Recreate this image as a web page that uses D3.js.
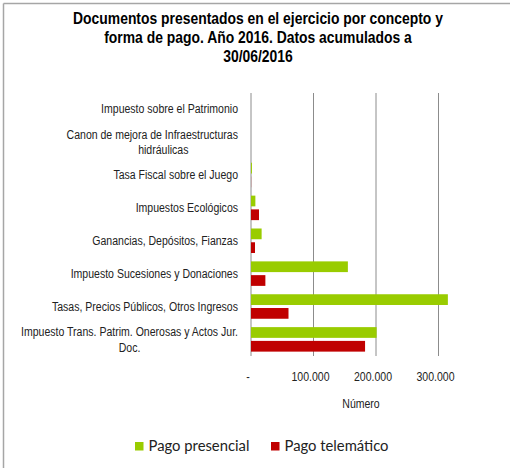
<!DOCTYPE html>
<html>
<head>
<meta charset="utf-8">
<script src="https://cdn.jsdelivr.net/npm/d3@7"></script>
<style>
  body { margin: 0; background: #fff; }
  text { font-family: "Liberation Sans", Arial, sans-serif; fill: #222; }
</style>
</head>
<body>
<div id="chart"></div>
<script>
var categories = [
  ["Impuesto sobre el Patrimonio"],
  ["Canon de mejora de Infraestructuras", "hidráulicas"],
  ["Tasa Fiscal sobre el Juego"],
  ["Impuestos Ecológicos"],
  ["Ganancias, Depósitos, Fianzas"],
  ["Impuesto Sucesiones y Donaciones"],
  ["Tasas, Precios Públicos, Otros Ingresos"],
  ["Impuesto Trans. Patrim. Onerosas y Actos Jur.", "Doc."]
];
var presencial = [0, 0, 1500, 7000, 17000, 155000, 315000, 201000];
var telematico = [0, 0, 200, 12800, 6400, 23000, 60000, 182500];
var ticks = [0, 100000, 200000, 300000];
var tickLabels = ["-", "100.000", "200.000", "300.000"];
var seriesNames = ["Pago presencial", "Pago telemático"];
var colors = ["#99cc00", "#c00000"];

var fw = 510, fh = 468;

var svg = d3.select("#chart")
    .append("svg")
    .attr("width", fw)
    .attr("height", fh);

// squeeze text horizontally to mimic the narrow font of the original
function squeeze(sel, k) {
  sel.each(function() {
    var w = this.getComputedTextLength();
    d3.select(this).attr("textLength", w * k).attr("lengthAdjust", "spacingAndGlyphs");
  });
}

// frame (top and left edges only)
svg.append("line").attr("x1", 3.5).attr("x2", fw).attr("y1", 3.5).attr("y2", 3.5)
    .attr("stroke", "#a6a6a6").attr("stroke-width", 1.5);
svg.append("line").attr("x1", 3.5).attr("x2", 3.5).attr("y1", 3.5).attr("y2", fh)
    .attr("stroke", "#a6a6a6").attr("stroke-width", 1.5);

var title = ["Documentos presentados en el ejercicio por concepto y",
             "forma de pago. Año 2016. Datos acumulados a",
             "30/06/2016"];
var tg = svg.append("g");
var tt = tg.selectAll("text")
    .data(title)
    .enter().append("text")
    .attr("x", 0)
    .attr("y", function(d, i) { return 24 + i * 19; })
    .attr("text-anchor", "middle")
    .style("font-weight", "bold")
    .style("font-size", "16.5px")
    .style("fill", "#000")
    .text(function(d) { return d; });
var tk = 370 / tt.nodes()[0].getComputedTextLength();
tg.attr("transform", "translate(258,0) scale(" + tk + ",1)");

var idx = d3.range(categories.length);

var x = d3.scaleLinear().domain([0, 300000]).range([251, 438.5]);
var y = d3.scaleBand().domain(idx).range([93, 356]);
var y1 = d3.scaleBand().domain([0, 1]).range([4, 28.5]).paddingInner(0.22);

// gridlines
svg.append("g").selectAll("line")
    .data(ticks)
    .enter().append("line")
    .attr("x1", function(d) { return x(d); })
    .attr("x2", function(d) { return x(d); })
    .attr("y1", 93).attr("y2", 356)
    .attr("stroke", "#8c8c8c")
    .attr("stroke-width", 1);

var series = [presencial, telematico];
series.forEach(function(vals, s) {
  svg.append("g").selectAll("rect")
    .data(vals)
    .enter().append("rect")
    .attr("x", x(0))
    .attr("y", function(d, i) { return y(i) + y1(s); })
    .attr("width", function(d) { return x(d) - x(0); })
    .attr("height", y1.bandwidth())
    .attr("fill", colors[s]);
});

// category labels, first line right aligned
var lab = svg.append("g").selectAll("text")
    .data(categories)
    .enter().append("text")
    .style("font-size", "12px")
    .attr("x", 238)
    .attr("y", function(d, i) { return y(i) + y.bandwidth() / 2 - (d.length - 1) * 7.5 + 4; })
    .attr("text-anchor", "end")
    .text(function(d) { return d[0]; });
var lk = 217 / lab.nodes()[7].getComputedTextLength();
var firstW = lab.nodes().map(function(n) { return n.getComputedTextLength() * lk; });
squeeze(lab, lk);

// second lines, centred under the first
var lab2 = svg.append("g").selectAll("text")
    .data(idx.filter(function(i) { return categories[i].length > 1; }))
    .enter().append("text")
    .style("font-size", "12px")
    .attr("y", function(i) { return y(i) + y.bandwidth() / 2 + 7.5 + 4 + 0.5; })
    .text(function(i) { return categories[i][1]; });
lab2.each(function(i) {
  var w = this.getComputedTextLength() * lk;
  var cx = 238 - firstW[i] / 2 + (i == 1 ? 11 : 0);
  d3.select(this).attr("x", cx - w / 2);
});
squeeze(lab2, lk);

// tick labels
var tl = svg.append("g").selectAll("text")
    .data(ticks)
    .enter().append("text")
    .attr("x", function(d) { return x(d) - 3; })
    .attr("y", 381)
    .attr("text-anchor", "middle")
    .style("font-size", "12px")
    .text(function(d, i) { return tickLabels[i]; });
squeeze(tl, lk);

svg.append("text")
    .attr("x", 361)
    .attr("y", 408)
    .attr("text-anchor", "middle")
    .style("font-size", "12px")
    .text("Número")
    .call(squeeze, lk);

// legend
var legX = [135, 271];
var leg = svg.append("g").selectAll("g")
    .data(seriesNames)
    .enter().append("g")
    .attr("transform", function(d, i) { return "translate(" + legX[i] + ",442)"; });
leg.append("rect")
    .attr("width", 8.5).attr("height", 8.5)
    .attr("fill", function(d, i) { return colors[i]; });
leg.append("text")
    .attr("x", 13.5)
    .attr("y", 9)
    .style("font-family", "Lato, 'Open Sans', sans-serif")
    .style("font-size", "14.8px")
    .style("fill", "#222")
    .text(function(d) { return d; });
</script>
</body>
</html>
